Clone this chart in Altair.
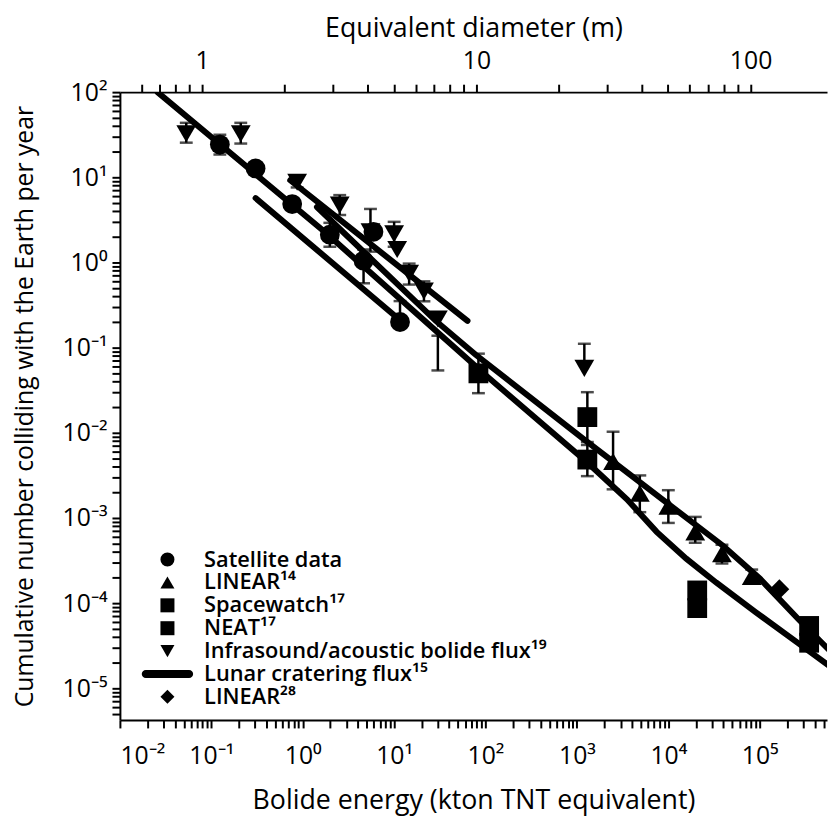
import altair as alt
import pandas as pd

# ---------------- data ----------------
# Satellite data (circles)
sat_E = [0.124, 0.305, 0.767, 1.98, 4.63, 5.94, 11.6]
sat_N = [24.2, 12.7, 4.85, 2.12, 1.05, 2.29, 0.20]
# LINEAR (ref 14) triangles up
lin14_E = [2485, 4875, 1.0e4, 1.97e4, 3.86e4, 8.17e4]
lin14_N = [4.6e-3, 1.95e-3, 1.38e-3, 6.87e-4, 3.81e-4, 2.06e-4]
# Spacewatch (ref 17) squares
sw_E = [83.6, 1300, 1300]
sw_N = [0.0499, 0.0153, 0.00485]
# NEAT (ref 17) squares
neat_E = [2.07e4, 2.07e4, 3.47e5, 3.47e5]
neat_N = [1.41e-4, 8.75e-5, 5.4e-5, 3.43e-5]
# Infrasound / acoustic bolide flux (ref 19) triangles down
inf_E = [0.0532, 0.21, 0.869, 2.54, 5.51, 10.0, 10.8, 14.6, 21.2, 30.1, 1205]
inf_N = [32.5, 32.5, 8.75, 4.72, 2.29, 2.17, 1.42, 0.745, 0.46, 0.217, 0.057]
# LINEAR (ref 28) diamond
lin28_E = [1.64e5]
lin28_N = [1.46e-4]

# error bars
err_E = [0.124, 1.98, 4.63, 11.6,
         0.0532, 0.21, 0.869, 2.54, 5.51, 10.0, 14.6, 21.2, 30.1, 1205,
         83.6, 1300, 1300,
         2485, 4875, 1.0e4, 1.97e4, 3.86e4, 8.17e4]
err_lo = [18.5, 1.53, 0.57, 0.20,
          25.5, 24.9, 7.6, 3.61, 1.34, 1.53, 0.55, 0.35, 0.054, 0.065,
          0.0292, 0.0078, 0.0031,
          2.17e-3, 1.17e-3, 8.75e-4, 5.12e-4, 2.92e-4, 1.71e-4]
err_hi = [31.6, 2.92, 1.42, 0.352,
          43.6, 43.6, 10.0, 6.18, 4.25, 3.0, 0.97, 0.60, 0.138, 0.111,
          0.085, 0.030, 0.0072,
          1.03e-2, 3.16e-3, 2.12e-3, 1.03e-3, 4.85e-4, 2.48e-4]

# thick lines
main_E = [0.0258, 1.84, 28.6, 107, 1300, 3525, 7450, 1.57e4, 3.33e4, 9.0e4, 2.7e5, 5.7e5]
main_N = [100, 2.17, 0.158, 0.0448, 4.48e-3, 1.66e-3, 6.87e-4, 3.33e-4, 1.75e-4, 7.86e-5, 3.33e-5, 1.85e-5]
lunar_E = [1.43, 28.6, 77.5, 1205, 3.96e4, 1.0e5, 2.7e5, 5.7e5]
lunar_N = [4.48, 0.206, 0.083, 8.3e-3, 4.72e-4, 1.95e-4, 6.34e-5, 2.84e-5]
satfit_E = [0.305, 11.9]
satfit_N = [5.70, 0.206]
inffit_E = [0.73, 63.5]
inffit_N = [9.23, 0.206]

# axis ticks
x_major = [1e-2, 1e-1, 1e0, 1e1, 1e2, 1e3, 1e4, 1e5]
y_major = [1e-5, 1e-4, 1e-3, 1e-2, 1e-1, 1e0, 1e1, 1e2]
top_major = [1, 10, 100]
top_minor = [0.6, 0.7, 0.8, 0.9, 2, 3, 4, 5, 6, 7, 8, 9, 20, 30, 40, 50, 60, 70, 80, 90]

LEG = ["Satellite data", "LINEAR¹⁴", "Spacewatch¹⁷", "NEAT¹⁷",
       "Infrasound/acoustic bolide flux¹⁹", "Lunar cratering flux¹⁵", "LINEAR²⁸"]
LINE_SYM = "M-3.1,-0.57L3.1,-0.57A0.57,0.57 0 0 1 3.1,0.57L-3.1,0.57A0.57,0.57 0 0 1 -3.1,-0.57Z"
SHAPES = ["circle", "triangle-up", "square", "square", "triangle-down", LINE_SYM, "diamond"]

# ---------------- scales ----------------
E_MIN, E_MAX = 1e-2, 10 ** 5.736
N_MIN, N_MAX = 10 ** -5.372, 1e2
K_KT = 10 ** -1.10  # kt per m^3 (diameter axis conversion)
D_MIN = (E_MIN / K_KT) ** (1 / 3)
D_MAX = (E_MAX / K_KT) ** (1 / 3)

x_minor = [k * 10 ** n for n in range(-2, 6) for k in range(2, 10) if E_MIN < k * 10 ** n < E_MAX]
y_minor = [k * 10 ** n for n in range(-6, 2) for k in range(2, 10) if N_MIN < k * 10 ** n < N_MAX]

MAJ = "abs(log(datum.value)/LN10 - round(log(datum.value)/LN10)) < 0.001"
SUP = ("'10' + (round(log(datum.value)/LN10) < 0 ? '⁻' : '') + "
       "['⁰','¹','²','³','⁴','⁵','⁶','⁷','⁸','⁹'][abs(round(log(datum.value)/LN10))]")
POW_LABEL = f"({MAJ}) ? ({SUP}) : ''"

X_AXIS = alt.Axis(orient="bottom", values=sorted(x_major + x_minor), tickCount=1000,
                  labelExpr=POW_LABEL, labelOverlap=False, tickSize=8, labelPadding=16,
                  title="Bolide energy (kton TNT equivalent)", titleY=68, titleFontSize=27)
Y_AXIS = alt.Axis(orient="left", values=sorted(y_major + y_minor), tickCount=1000,
                  labelExpr=POW_LABEL, labelOverlap=False, tickSize=8, labelPadding=5,
                  title="Cumulative number colliding with the Earth per year",
                  titleX=-83, titleFontSize=25)


def xe(field="E"):
    return alt.X(f"{field}:Q", scale=alt.Scale(type="log", domain=[E_MIN, E_MAX], nice=False),
                 axis=X_AXIS)


def ye(field="N"):
    return alt.Y(f"{field}:Q", scale=alt.Scale(type="log", domain=[N_MIN, N_MAX], nice=False),
                 axis=Y_AXIS)


# ---------------- frames ----------------
pts = pd.concat([
    pd.DataFrame({"E": sat_E, "N": sat_N, "series": LEG[0]}),
    pd.DataFrame({"E": lin14_E, "N": lin14_N, "series": LEG[1]}),
    pd.DataFrame({"E": sw_E, "N": sw_N, "series": LEG[2]}),
    pd.DataFrame({"E": neat_E, "N": neat_N, "series": LEG[3]}),
    pd.DataFrame({"E": inf_E, "N": inf_N, "series": LEG[4]}),
    pd.DataFrame({"E": lin28_E, "N": lin28_N, "series": LEG[6]}),
])
lines_df = pd.concat([
    pd.DataFrame({"E": main_E, "N": main_N, "line": "main"}),
    pd.DataFrame({"E": lunar_E, "N": lunar_N, "line": "lunar"}),
    pd.DataFrame({"E": satfit_E, "N": satfit_N, "line": "satfit"}),
    pd.DataFrame({"E": inffit_E, "N": inffit_N, "line": "inffit"}),
])
err_df = pd.DataFrame({"E": err_E, "N": err_lo, "N2": err_hi})
caps_df = pd.concat([pd.DataFrame({"E": err_E, "N": err_lo}),
                     pd.DataFrame({"E": err_E, "N": err_hi})])

# ---------------- layers ----------------
lines = alt.Chart(lines_df).mark_line(color="black", strokeWidth=6, strokeCap="round", clip=True).encode(
    x=xe(), y=ye(), detail="line:N")
errs = alt.Chart(err_df).mark_rule(color="black", strokeWidth=2.5).encode(
    x=xe(), y=ye(), y2="N2:Q")
caps = alt.Chart(caps_df).mark_tick(color="black", orient="horizontal", size=13, thickness=2.5).encode(
    x=xe(), y=ye())
points = alt.Chart(pts).mark_point(filled=True, color="black", size=400, opacity=1).encode(
    x=xe(), y=ye(),
    shape=alt.Shape("series:N", scale=alt.Scale(domain=LEG, range=SHAPES),
                    legend=alt.Legend(title="", orient="none", legendX=37, legendY=461,
                                      symbolSize=200, symbolFillColor="black", symbolStrokeWidth=0,
                                      labelFont="Open Sans", labelFontSize=22, labelFontWeight=600,
                                      labelColor="black", labelOffset=26, rowPadding=1.1,
                                      padding=0, labelLimit=600)),
)
main_layers = alt.layer(lines, errs, caps, points)

top_axis = alt.Chart(pd.DataFrame({"D": top_major})).mark_point(opacity=0).encode(
    x=alt.X("D:Q", scale=alt.Scale(type="log", domain=[D_MIN, D_MAX], nice=False),
            axis=alt.Axis(orient="top", values=sorted(top_major + top_minor), tickCount=1000,
                          format="~g", labelExpr=f"({MAJ}) ? datum.label : ''", labelOverlap=False,
                          tickSize=8, labelPadding=11, title="Equivalent diameter (m)",
                          titleY=-50, titleFontSize=27)))

chart = alt.layer(main_layers, top_axis).resolve_scale(x="independent").properties(
    width=714, height=634,
    padding={"left": 113, "top": 81, "right": 2, "bottom": 96},
    autosize=alt.AutoSizeParams(type="none"),
).configure_axis(
    labelFont="Open Sans", titleFont="Open Sans", labelFontSize=25, titleFontSize=27,
    titleFontWeight="normal", labelColor="black", titleColor="black",
    domainColor="black", tickColor="black", domainWidth=2, tickWidth=2, grid=False,
).configure_view(stroke=None)

chart.save("out.html", embed_options={"renderer": "svg", "actions": False})
